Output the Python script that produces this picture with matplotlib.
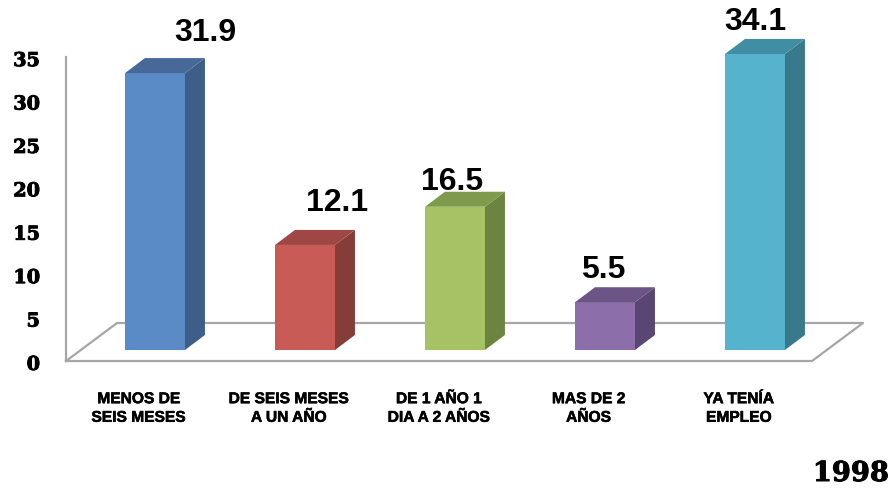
import matplotlib
matplotlib.use('Agg')
import matplotlib.pyplot as plt
import matplotlib.patheffects as pe
from matplotlib.patches import Polygon

# percentages by time spent looking for work
categories = ["MENOS DE\nSEIS MESES", "DE SEIS MESES\nA UN AÑO", "DE 1 AÑO 1\nDIA A 2 AÑOS",
              "MAS DE 2\nAÑOS", "YA TENÍA\nEMPLEO"]
values = [31.9, 12.1, 16.5, 5.5, 34.1]
yticks = [0, 5, 10, 15, 20, 25, 30, 35]
year_label = "1998"

# face colours: front, top, side
front_colors = ["#5A8BC6", "#C95B57", "#A6C265", "#8C6EAA", "#56B3CD"]
top_colors = ["#46699A", "#9E4744", "#7E9A4A", "#6B5486", "#3F8EA3"]
side_colors = ["#3C5E88", "#863C39", "#6C8440", "#5A4672", "#387A8C"]

# value label nudges (category units, value units) as Excel placed them
label_dx = [0.333, 0.213, -0.02, -0.013, 0.0]
label_dy = [4.62, 4.84, 2.85, 3.72, 3.69]

# 3d look: bar depth and front plane offsets
BAR_W = 0.4
DX, DY = 0.133, 1.73
FRONT_Y = -1.27
GRID = "#A6A6A6"
heavy = [pe.withStroke(linewidth=0.7, foreground='black')]

fig = plt.figure(figsize=(8.91, 4.88), dpi=100)
ax = fig.add_axes([0, 0, 1, 1])
ax.set_xlim(-1.0333, 4.9067)
ax.set_ylim(-15.90, 40.32)
ax.axis('off')

# floor and left edge
floor = [(-0.593, FRONT_Y), (4.38, FRONT_Y), (4.72, 3.11), (-0.253, 3.11), (-0.593, FRONT_Y)]
ax.plot([p[0] for p in floor], [p[1] for p in floor], color=GRID, lw=1.6, zorder=1)
ax.plot([-0.593, -0.593], [FRONT_Y, 35 + FRONT_Y], color=GRID, lw=1.6, zorder=1)

for t in yticks:
    ax.text(-0.767, t + FRONT_Y - 0.45, str(t), ha='right', va='center',
            fontsize=13.8, fontweight='bold', family='DejaVu Serif', path_effects=heavy)

xs = list(range(len(values)))
ax.bar(xs, values, width=BAR_W, color=front_colors, edgecolor='none', zorder=3)

for i, v in enumerate(values):
    x0, x1 = i - BAR_W / 2, i + BAR_W / 2
    side = [(x1, 0), (x1 + DX, DY), (x1 + DX, v + DY), (x1, v)]
    top = [(x0, v), (x1, v), (x1 + DX, v + DY), (x0 + DX, v + DY)]
    ax.add_patch(Polygon(side, closed=True, facecolor=side_colors[i], edgecolor='none', zorder=3))
    ax.add_patch(Polygon(top, closed=True, facecolor=top_colors[i], edgecolor='none', zorder=3))
    ax.text(i + label_dx[i], v + label_dy[i], f"{v:.1f}", ha='center', va='center',
            fontsize=23, fontweight='bold', family='Liberation Sans')
    ax.text(i - 0.11, -6.68, categories[i], ha='center', va='center', linespacing=1.3,
            fontsize=11.2, fontweight='bold', family='Liberation Sans',
            path_effects=[pe.withStroke(linewidth=0.4, foreground='black')])

fig.text(851 / 891, 1 - 473.5 / 488, year_label, ha='center', va='center',
         fontsize=19.7, fontweight='bold', family='DejaVu Serif', path_effects=heavy)

fig.savefig("out.png", dpi=100)
